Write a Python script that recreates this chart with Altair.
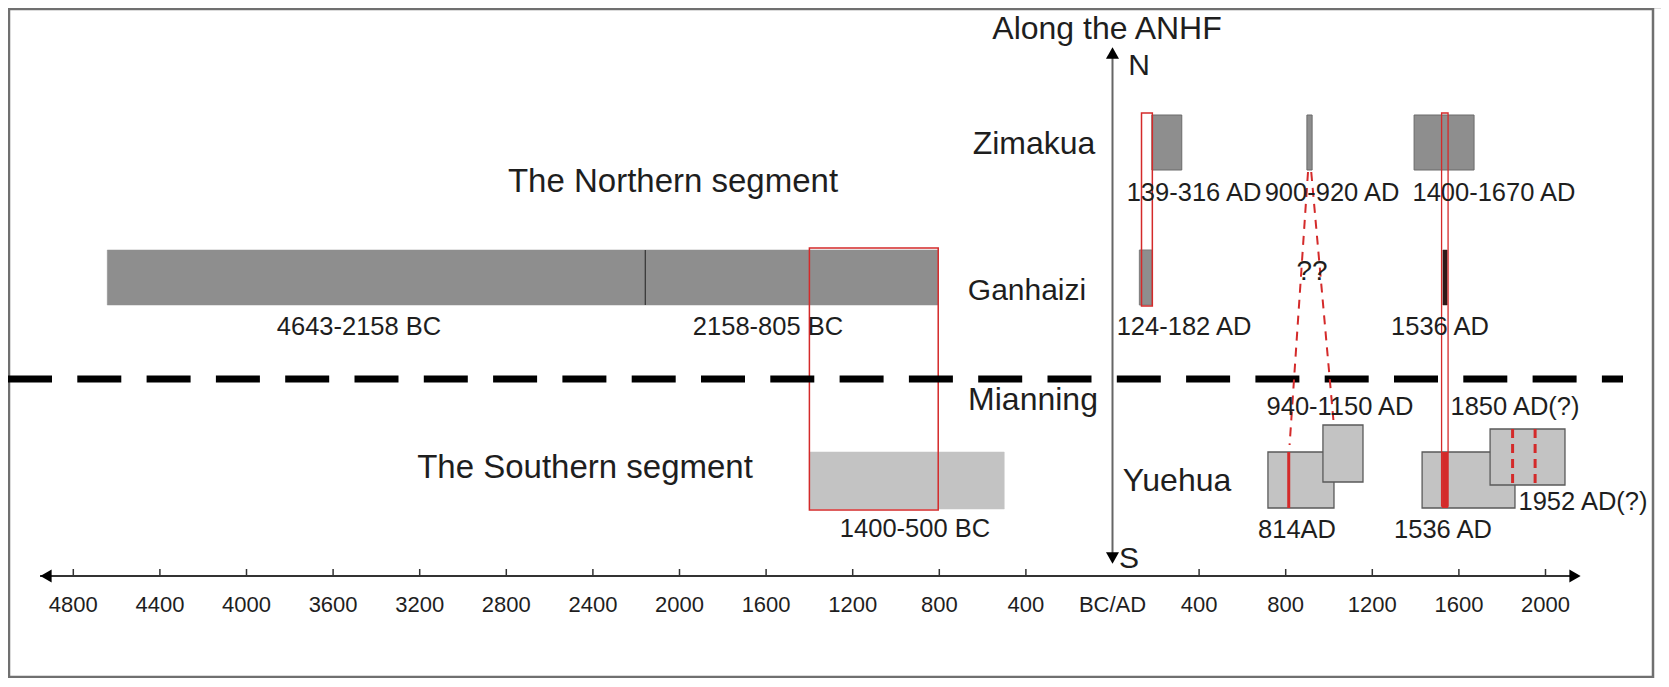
import altair as alt
import pandas as pd

# ---------------- data (years; BC negative) ----------------
north_start = [-4643, -2158]
north_end = [-2158, -805]
north_labels = ["4643-2158 BC", "2158-805 BC"]

south_start = [-1400]
south_end = [-500]
south_labels = ["1400-500 BC"]

zim_start = [182, 898, 1393]
zim_end = [320, 922, 1670]
zim_labels = ["139-316 AD", "900-920 AD", "1400-1670 AD"]

gan_start = [124, 1526]
gan_end = [182, 1546]
gan_labels = ["124-182 AD", "1536 AD"]

yue_start = [718, 972, 1430, 1744]
yue_end = [1023, 1157, 1859, 2090]
yue_labels = ["814AD", "940-1150 AD", "1536 AD", "1850 AD(?)", "1952 AD(?)"]
yue_events = [814]
yue_events_uncertain = [1848, 1952]

red_windows_start = [-1400, 134, 1520]
red_windows_end = [-805, 184, 1550]

row_names = ["Zimakua", "Ganhaizi", "Mianning", "Yuehua"]
tick_years = [-4800, -4400, -4000, -3600, -3200, -2800, -2400, -2000, -1600,
              -1200, -800, -400, 0, 400, 800, 1200, 1600, 2000]
tick_labels = ["4800", "4400", "4000", "3600", "3200", "2800", "2400", "2000", "1600",
               "1200", "800", "400", "BC/AD", "400", "800", "1200", "1600", "2000"]

# ---------------- layout (page pixels) ----------------
PX_PER_YEAR = 0.2165
ZERO_PX = 1112.5
W, H = 1653, 670


def yr(px):
    return (px - ZERO_PX) / PX_PER_YEAR


XS = alt.Scale(domain=[yr(8), yr(8 + W)], range=[0, W])
YS = alt.Scale(domain=[8, 8 + H], range=[0, H])

FONT = "Liberation Sans, Arial"
DARK = "#8e8e8e"
LIGHT = "#c3c3c3"
RED = "#d42a2a"

yue_bands_y = [(452, 508), (425, 482), (452, 508), (429, 485)]

rects = []
# frame
rects.append(dict(x=yr(9), x2=yr(1653), y=9, y2=677, fill="transparent", stroke="#707070", sw=2.5))
# northern segment bar
for s, e in zip(north_start, north_end):
    rects.append(dict(x=s, x2=e, y=250, y2=305, fill=DARK, stroke=DARK, sw=0.5))
# southern segment
for s, e in zip(south_start, south_end):
    rects.append(dict(x=s, x2=e, y=452, y2=509, fill=LIGHT, stroke=LIGHT, sw=0.5))
# Zimakua
for s, e in zip(zim_start, zim_end):
    rects.append(dict(x=s, x2=e, y=115, y2=170, fill=DARK, stroke="#6a6a6a", sw=1))
# Ganhaizi
rects.append(dict(x=gan_start[0], x2=gan_end[0], y=250, y2=305, fill=DARK, stroke="#7a7a7a", sw=1))
rects.append(dict(x=gan_start[1], x2=gan_end[1], y=250, y2=305, fill="#2e1a1a", stroke="#2e1a1a", sw=0.5))
# Yuehua
for s, e, (a, b) in zip(yue_start, yue_end, yue_bands_y):
    rects.append(dict(x=s, x2=e, y=a, y2=b, fill=LIGHT, stroke="#5a5a5a", sw=1.3))
# red windows
rects.append(dict(x=red_windows_start[0], x2=red_windows_end[0], y=248, y2=510, fill="transparent", stroke=RED, sw=1.5))
rects.append(dict(x=red_windows_start[1], x2=red_windows_end[1], y=113, y2=306, fill="transparent", stroke=RED, sw=1.5))
rects.append(dict(x=red_windows_start[2], x2=red_windows_end[2], y=113, y2=506, fill="transparent", stroke=RED, sw=1.3))
rect_df = pd.DataFrame(rects)
rect_df["o"] = range(len(rect_df))

rect_layer = alt.Chart(rect_df).mark_rect().encode(
    x=alt.X("x:Q", scale=XS, axis=None),
    x2="x2:Q",
    y=alt.Y("y:Q", scale=YS, axis=None),
    y2="y2:Q",
    fill=alt.Fill("fill:N", scale=None),
    stroke=alt.Stroke("stroke:N", scale=None),
    strokeWidth=alt.StrokeWidth("sw:Q", scale=None),
    order="o:Q",
)

# solid lines
solid = [
    dict(x=-2158, x2=-2158, y=250, y2=305, c="#333333", w=1.2),           # divider
    dict(x=yue_events[0], x2=yue_events[0], y=452, y2=508, c=RED, w=3),     # 814
    dict(x=1536, x2=1536, y=452, y2=508, c=RED, w=6),                      # 1536 in Yuehua
    dict(x=yr(40), x2=yr(1575), y=576, y2=576, c="#333333", w=2),           # time axis
    dict(x=0, x2=0, y=52, y2=558, c="#666666", w=2),                        # N-S arrow
]
for t in tick_years:
    if t != 0:
        solid.append(dict(x=t, x2=t, y=569, y2=576, c="#333333", w=1.5))
solid_df = pd.DataFrame(solid)
solid_layer = alt.Chart(solid_df).mark_rule().encode(
    x=alt.X("x:Q", scale=XS), x2="x2:Q",
    y=alt.Y("y:Q", scale=YS), y2="y2:Q",
    color=alt.Color("c:N", scale=None),
    strokeWidth=alt.StrokeWidth("w:Q", scale=None),
)

# dashed red correlation lines
corr_df = pd.DataFrame([
    dict(x=903, x2=818, y=172, y2=445),
    dict(x=918, x2=1022, y=172, y2=424),
])
corr_layer = alt.Chart(corr_df).mark_rule(color=RED, strokeWidth=2, strokeDash=[9, 7]).encode(
    x=alt.X("x:Q", scale=XS), x2="x2:Q", y=alt.Y("y:Q", scale=YS), y2="y2:Q")

unc_df = pd.DataFrame([dict(x=v, y=429, y2=485) for v in yue_events_uncertain])
unc_layer = alt.Chart(unc_df).mark_rule(color=RED, strokeWidth=3, strokeDash=[9, 6]).encode(
    x=alt.X("x:Q", scale=XS), y=alt.Y("y:Q", scale=YS), y2="y2:Q")

# segment boundary
sep_df = pd.DataFrame([dict(x=yr(8), x2=yr(1623), y=379)])
sep_layer = alt.Chart(sep_df).mark_rule(color="black", strokeWidth=7, strokeDash=[44, 25.3]).encode(
    x=alt.X("x:Q", scale=XS), x2="x2:Q", y=alt.Y("y:Q", scale=YS))

# arrow heads
heads_df = pd.DataFrame([
    dict(x=yr(46), y=576, s="triangle-left"),
    dict(x=yr(1575), y=576, s="triangle-right"),
    dict(x=0, y=53, s="triangle-up"),
    dict(x=0, y=558, s="triangle-down"),
])
heads_layer = alt.Chart(heads_df).mark_point(filled=True, color="black", size=170, opacity=1).encode(
    x=alt.X("x:Q", scale=XS), y=alt.Y("y:Q", scale=YS),
    shape=alt.Shape("s:N", scale=None))

# texts
LBL = 25.5
texts = []
for t, lab in zip(tick_years, tick_labels):
    texts.append(dict(x=t, y=605, t=lab, fs=22))
texts += [
    dict(x=yr(359), y=327, t=north_labels[0], fs=LBL),
    dict(x=yr(768), y=327, t=north_labels[1], fs=LBL),
    dict(x=yr(915), y=529, t=south_labels[0], fs=LBL),
    dict(x=yr(1194), y=193, t=zim_labels[0], fs=LBL),
    dict(x=yr(1332), y=193, t=zim_labels[1], fs=LBL),
    dict(x=yr(1494), y=193, t=zim_labels[2], fs=LBL),
    dict(x=yr(1184), y=327, t=gan_labels[0], fs=LBL),
    dict(x=yr(1440), y=327, t=gan_labels[1], fs=LBL),
    dict(x=yr(1297), y=530, t=yue_labels[0], fs=LBL),
    dict(x=yr(1340), y=407, t=yue_labels[1], fs=LBL),
    dict(x=yr(1443), y=530, t=yue_labels[2], fs=LBL),
    dict(x=yr(1515), y=407, t=yue_labels[3], fs=LBL),
    dict(x=yr(1583), y=502, t=yue_labels[4], fs=LBL),
    dict(x=yr(1312), y=272, t="??", fs=28),
    dict(x=yr(1034), y=144, t=row_names[0], fs=32),
    dict(x=yr(1027), y=291, t=row_names[1], fs=30),
    dict(x=yr(1033), y=400, t=row_names[2], fs=32),
    dict(x=yr(1177), y=481, t=row_names[3], fs=32),
    dict(x=yr(673), y=182, t="The Northern segment", fs=33),
    dict(x=yr(585), y=468, t="The Southern segment", fs=33),
    dict(x=yr(1107), y=29, t="Along the ANHF", fs=32),
    dict(x=yr(1139), y=66, t="N", fs=30),
    dict(x=yr(1129), y=559, t="S", fs=30),
]
text_df = pd.DataFrame(texts)
text_layer = alt.Chart(text_df).mark_text(font=FONT, color="#1e1e1e", baseline="middle", align="center").encode(
    x=alt.X("x:Q", scale=XS), y=alt.Y("y:Q", scale=YS), text="t:N",
    size=alt.Size("fs:Q", scale=None))

chart = alt.layer(
    rect_layer, sep_layer, solid_layer, unc_layer, corr_layer, heads_layer, text_layer
).properties(
    width=W, height=H, padding=0, autosize=alt.AutoSizeParams(type="none")
).configure_view(stroke=None).configure(background="white")

chart.save("out.html", embed_options={"renderer": "svg", "actions": False})
